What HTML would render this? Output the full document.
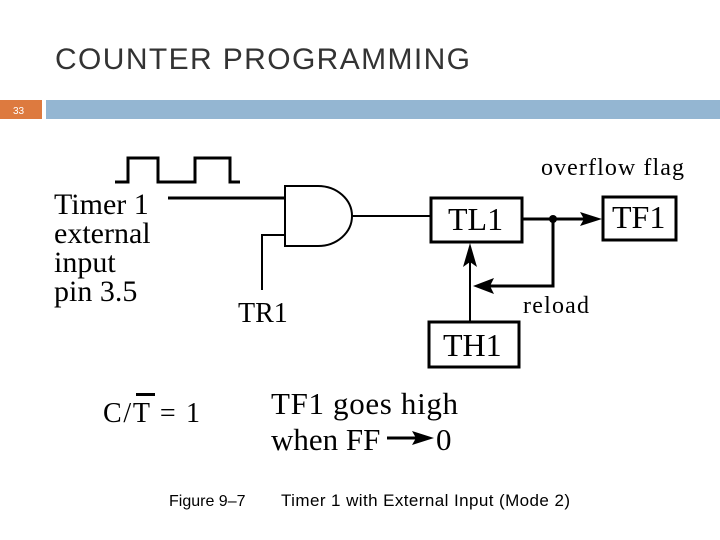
<!DOCTYPE html>
<html><head><style>
body{margin:0;width:720px;height:540px;background:#fff;overflow:hidden;position:relative}
svg{position:absolute;left:0;top:0}
</style></head><body>
<svg width="720" height="540" viewBox="0 0 720 540">
<text x="55" y="69" font-family="Liberation Sans, sans-serif" font-size="30" fill="#333" textLength="415">COUNTER PROGRAMMING</text>
<rect x="0" y="100" width="42" height="19" fill="#dd7a3f"/>
<text x="13" y="114" font-family="Liberation Sans, sans-serif" font-size="10" fill="#fff">33</text>
<rect x="46" y="100" width="674" height="19" fill="#94b6d2"/>
<g font-family="Liberation Serif, serif" fill="#000">
<polyline points="115,182 128,182 128,158 158,158 158,182 195,182 195,158 230,158 230,182 240,182" fill="none" stroke="#000" stroke-width="3"/>
<line x1="168" y1="198" x2="285" y2="198" stroke="#000" stroke-width="3"/>
<path d="M285,186 L318,186 A34,30 0 0 1 318,246 L285,246 Z" fill="#fff" stroke="#000" stroke-width="2"/>
<polyline points="285,235 262,235 262,290" fill="none" stroke="#000" stroke-width="2"/>
<line x1="352" y1="216" x2="430" y2="216" stroke="#000" stroke-width="2"/>
<rect x="431" y="198" width="91" height="44" fill="none" stroke="#000" stroke-width="3"/>
<text x="448" y="230" font-size="32">TL1</text>
<rect x="603" y="197" width="73" height="43" fill="none" stroke="#000" stroke-width="3"/>
<text x="612" y="228" font-size="32">TF1</text>
<line x1="522" y1="219" x2="585" y2="219" stroke="#000" stroke-width="3"/>
<polygon points="602,219 580,212 584,219 580,226" fill="#000"/>
<circle cx="553" cy="219" r="4" fill="#000"/>
<polyline points="553,219 553,286 490,286" fill="none" stroke="#000" stroke-width="3"/>
<polygon points="473,286 494,278 490,286 494,294" fill="#000"/>
<line x1="470" y1="321" x2="470" y2="262" stroke="#000" stroke-width="2"/>
<polygon points="470,243 463,267 470,262 477,267" fill="#000"/>
<rect x="429" y="322" width="90" height="45" fill="none" stroke="#000" stroke-width="3"/>
<text x="443" y="356" font-size="32">TH1</text>
<text x="541" y="175" font-size="24" textLength="143">overflow flag</text>
<text x="523" y="313" font-size="24" textLength="66">reload</text>
<text x="238" y="322" font-size="28">TR1</text>
<text font-size="30"><tspan x="54" y="214">Timer 1</tspan><tspan x="54" y="243">external</tspan><tspan x="54" y="272">input</tspan><tspan x="54" y="301">pin 3.5</tspan></text>
<text x="103" y="422" font-size="28" textLength="97">C/T = 1</text>
<rect x="136" y="393" width="19" height="3" fill="#000"/>
<text x="271" y="414" font-size="31" textLength="187">TF1 goes high</text>
<text x="271" y="450" font-size="31">when FF</text>
<line x1="387" y1="438" x2="418" y2="438" stroke="#000" stroke-width="3"/>
<polygon points="434,438 412,431 416,438 412,445" fill="#000"/>
<text x="436" y="450" font-size="31">0</text>
</g>
<text x="169" y="506" font-family="Liberation Sans, sans-serif" font-size="16">Figure 9–7</text>
<text x="281" y="506" font-family="Liberation Sans, sans-serif" font-size="17" textLength="289">Timer 1 with External Input (Mode 2)</text>
</svg>
</body></html>
